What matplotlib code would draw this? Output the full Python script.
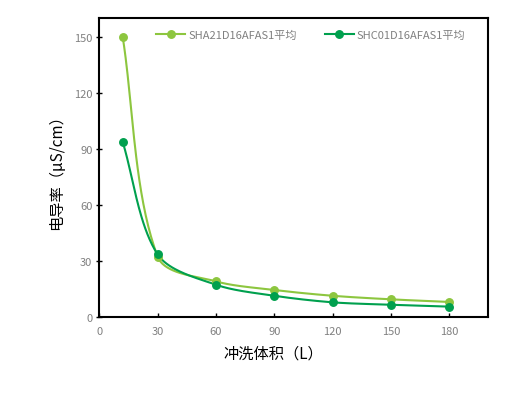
import numpy as np
import matplotlib.pyplot as plt
from matplotlib.lines import Line2D

plt.rcParams['font.family'] = ['Noto Sans CJK SC', 'DejaVu Sans']

volume = [12, 30, 60, 90, 120, 150, 180]
sha_avg = [150, 32.4, 19.2, 14.6, 11.5, 9.6, 8.2]
shc_avg = [93.8, 33.6, 17.4, 11.5, 8.0, 6.7, 5.7]
labels = ['SHA21D16AFAS1平均', 'SHC01D16AFAS1平均']
colors = ['#8dc63f', '#00a04e']

XMAX, YMAX = 200, 160
W, H = 5.3, 4.02
ax_rect = [0.1874, 0.2082, 0.734, 0.7445]


def smooth(xs, ys, sx, sy, k=0.3):
    # excel-like smoothed line, done in screen-ish units
    p = np.column_stack([np.array(xs) * sx, np.array(ys) * sy])
    n = len(p)
    out = []
    for i in range(n - 1):
        p0, p1 = p[i], p[i + 1]
        d = np.linalg.norm(p1 - p0)
        t0 = p[i + 1] - p[i - 1] if i > 0 else p1 - p0
        t1 = p[i + 2] - p[i] if i + 2 < n else p1 - p0
        t0 = t0 / np.linalg.norm(t0)
        t1 = t1 / np.linalg.norm(t1)
        c0 = p0 + t0 * d * k
        c1 = p1 - t1 * d * k
        t = np.linspace(0, 1, 40)[:, None]
        seg = (1 - t) ** 3 * p0 + 3 * (1 - t) ** 2 * t * c0 + 3 * (1 - t) * t ** 2 * c1 + t ** 3 * p1
        out.append(seg if i == 0 else seg[1:])
    out = np.vstack(out)
    return out[:, 0] / sx, out[:, 1] / sy


fig = plt.figure(figsize=(W, H), dpi=100)
ax = fig.add_axes(ax_rect)
sx = W * 100 * ax_rect[2] / XMAX
sy = H * 100 * ax_rect[3] / YMAX

for ys, c in zip([sha_avg, shc_avg], colors):
    cx, cy = smooth(volume, ys, sx, sy)
    ax.plot(cx, cy, color=c, lw=1.5, zorder=3)
    ax.plot(volume, ys, 'o', color=c, ms=5.4, zorder=4)

ax.set_xlim(0, XMAX)
ax.set_ylim(0, YMAX)
ax.set_xticks([0, 30, 60, 90, 120, 150, 180])
ax.set_yticks([0, 30, 60, 90, 120, 150])
ax.tick_params(axis='x', direction='in', length=3, width=1, colors='black',
               labelcolor='#808080', labelsize=8, pad=6)
ax.tick_params(axis='y', direction='inout', length=4, width=1, colors='black',
               labelcolor='#808080', labelsize=8, pad=3)
for s in ax.spines.values():
    s.set_linewidth(1.5)

ax.set_ylabel('电导率（μS/cm）', fontsize=11)
ax.yaxis.set_label_coords(-0.088, 0.5)
ax.set_xlabel('冲洗体积（L）', fontsize=11)
ax.xaxis.set_label_coords(0.32, -0.09)
ax.xaxis.label.set_ha('left')

handles = [Line2D([], [], color=c, lw=1.5, marker='o', ms=5.4) for c in colors]
ax.legend(handles, labels, ncol=2, frameon=False, loc='center',
          bbox_to_anchor=(0.544, 0.944), fontsize=8, labelcolor='#808080',
          handlelength=2.6, handletextpad=0.3, columnspacing=2.5)

fig.savefig('out.png', dpi=100)
